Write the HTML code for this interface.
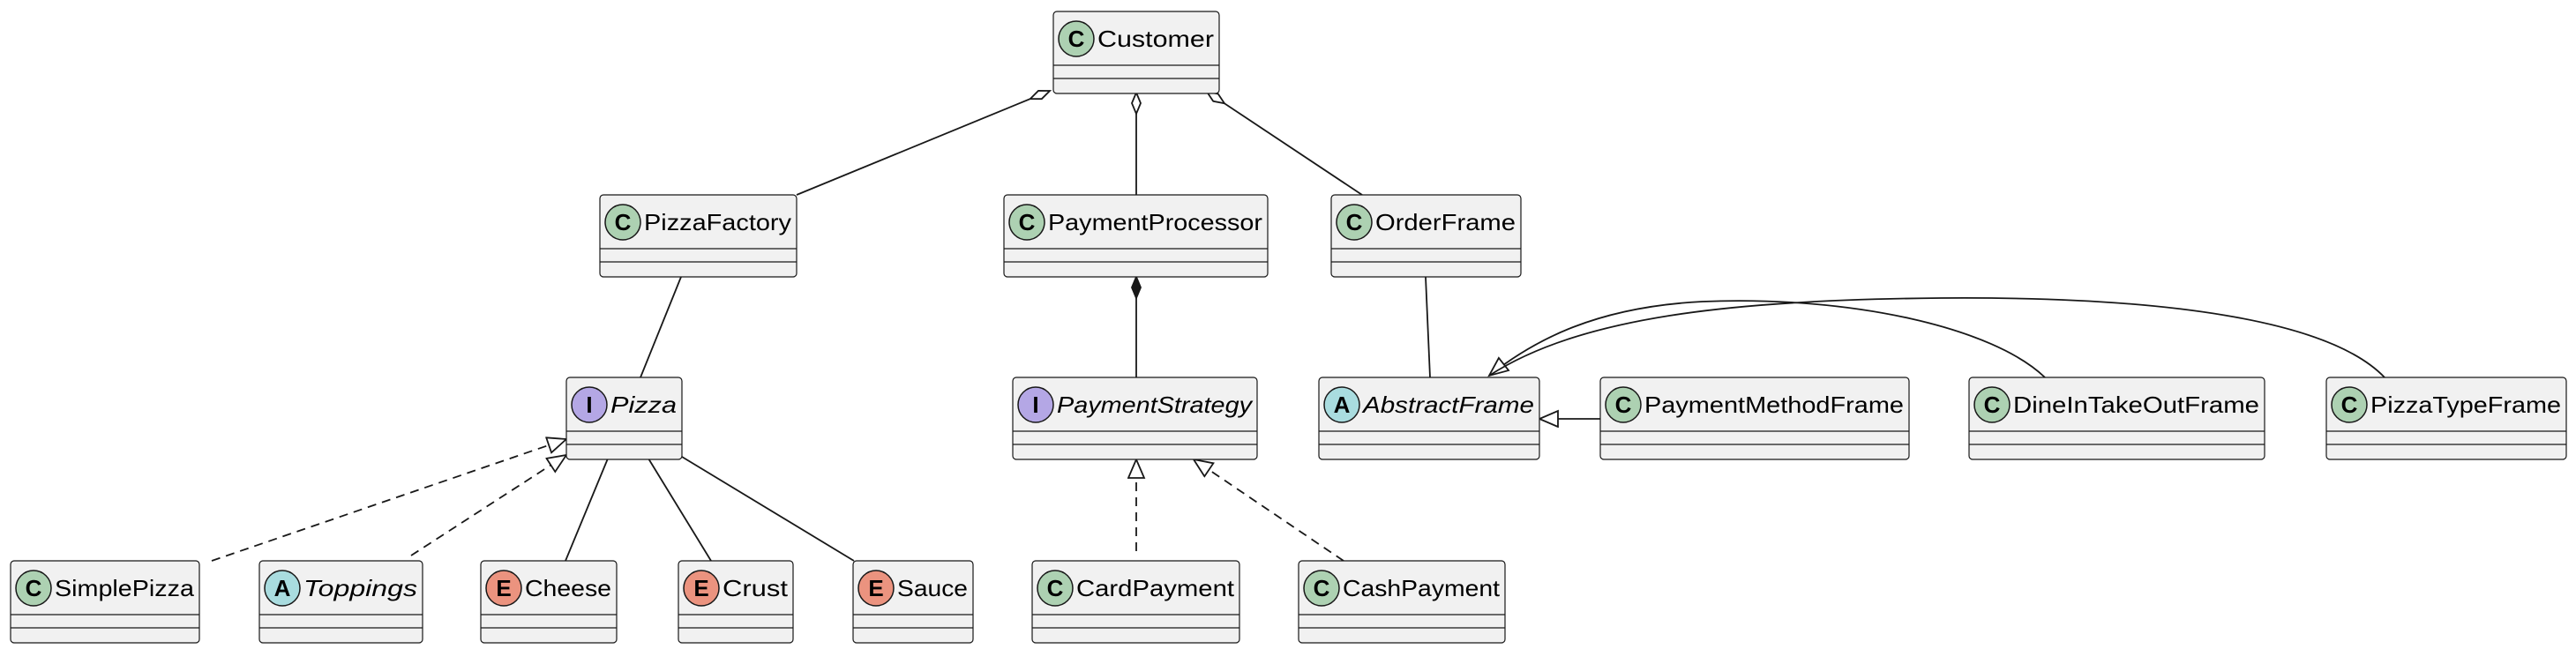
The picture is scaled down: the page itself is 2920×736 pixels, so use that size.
<!DOCTYPE html>
<html><head><meta charset="utf-8"><style>
html,body{margin:0;padding:0;background:#fff;}
svg{display:block;}
text{font-family:"Liberation Sans",sans-serif;}
</style></head><body>
<svg width="2920" height="736" viewBox="0 0 2920 736" xmlns="http://www.w3.org/2000/svg">
<defs>
<marker id="tri" markerUnits="userSpaceOnUse" markerWidth="30" markerHeight="30" refX="22" refY="10" orient="auto"><path d="M1,1 L22,10 L1,19 z" fill="#fff" stroke="#181818" stroke-width="1.8"/></marker>
<marker id="dia" markerUnits="userSpaceOnUse" markerWidth="30" markerHeight="20" refX="25" refY="6" orient="auto"><path d="M1,6 L13,1 L25,6 L13,11 z" fill="#fff" stroke="#181818" stroke-width="1.8"/></marker>
<marker id="diaf" markerUnits="userSpaceOnUse" markerWidth="30" markerHeight="20" refX="25" refY="6" orient="auto"><path d="M1,6 L13,1 L25,6 L13,11 z" fill="#181818" stroke="#181818" stroke-width="1.8"/></marker>
</defs>
<g stroke="#181818" stroke-width="1.8" fill="none">
<line x1="903" y1="221" x2="1190" y2="103" marker-end="url(#dia)"/>
<line x1="1288" y1="221" x2="1288" y2="105" marker-end="url(#dia)"/>
<line x1="1544" y1="221" x2="1368" y2="104" marker-end="url(#dia)"/>
<line x1="1288" y1="428" x2="1288" y2="314" marker-end="url(#diaf)"/>
<line x1="772" y1="314" x2="726" y2="428"/>
<line x1="1616" y1="314" x2="1621" y2="428"/>
<line x1="641" y1="636" x2="689" y2="520"/>
<line x1="806" y1="636" x2="735" y2="520"/>
<line x1="968" y1="636" x2="773" y2="518"/>
<line x1="1814" y1="475" x2="1745" y2="475" marker-end="url(#tri)"/>
<g stroke-dasharray="10,7">
<line x1="240" y1="636" x2="642" y2="498" marker-end="url(#tri)"/>
<line x1="466" y1="630" x2="642" y2="516" marker-end="url(#tri)"/>
<line x1="1288" y1="625" x2="1288" y2="521" marker-end="url(#tri)"/>
<line x1="1523" y1="636" x2="1353" y2="521" marker-end="url(#tri)"/>
</g>
<path d="M2318 428 C2260 372 2100 335 1930 342 C1810 348 1740 385 1688 426" marker-end="url(#tri)"/>
<path d="M2703 428 C2640 362 2450 336 2200 338 C1960 340 1790 360 1688 426"/>
</g>
<g id="boxes"></g>
</svg>
<script>
var boxes=[
["Customer",1194,13,188,"C",0],
["PizzaFactory",680,221,223,"C",0],
["PaymentProcessor",1138,221,299,"C",0],
["OrderFrame",1509,221,215,"C",0],
["Pizza",642,428,131,"I",1],
["PaymentStrategy",1148,428,277,"I",1],
["AbstractFrame",1495,428,250,"A",1],
["PaymentMethodFrame",1814,428,350,"C",0],
["DineInTakeOutFrame",2232,428,335,"C",0],
["PizzaTypeFrame",2637,428,272,"C",0],
["SimplePizza",12,636,214,"C",0],
["Toppings",294,636,185,"A",1],
["Cheese",545,636,154,"E",0],
["Crust",769,636,130,"E",0],
["Sauce",967,636,136,"E",0],
["CardPayment",1170,636,235,"C",0],
["CashPayment",1472,636,234,"C",0]];
var col={C:"#ADD1B2",I:"#B4A7E5",A:"#A9DCDF",E:"#EB937F"};
var s="";
boxes.forEach(function(b){var n=b[0],x=b[1],y=b[2],w=b[3];
s+='<rect x="'+x+'" y="'+y+'" width="'+w+'" height="93" rx="4" fill="#F1F1F1" stroke="#181818" stroke-width="1.2"/>';
s+='<line x1="'+x+'" y1="'+(y+61)+'" x2="'+(x+w)+'" y2="'+(y+61)+'" stroke="#181818" stroke-width="1.2"/>';
s+='<line x1="'+x+'" y1="'+(y+76)+'" x2="'+(x+w)+'" y2="'+(y+76)+'" stroke="#181818" stroke-width="1.2"/>';
s+='<circle cx="'+(x+26)+'" cy="'+(y+31)+'" r="20" fill="'+col[b[4]]+'" stroke="#181818" stroke-width="1.5"/>';
s+='<text x="'+(x+26)+'" y="'+(y+40)+'" font-size="26" font-weight="bold" text-anchor="middle" fill="#000">'+b[4]+'</text>';
var tw=w-56;
s+='<text x="'+(x+50)+'" y="'+(y+40)+'" font-size="26" fill="#000"'+(b[5]?' font-style="italic"':'')+' textLength="'+tw+'" lengthAdjust="spacingAndGlyphs">'+n+'</text>';
});
document.getElementById("boxes").innerHTML=s;
</script>
</body></html>
